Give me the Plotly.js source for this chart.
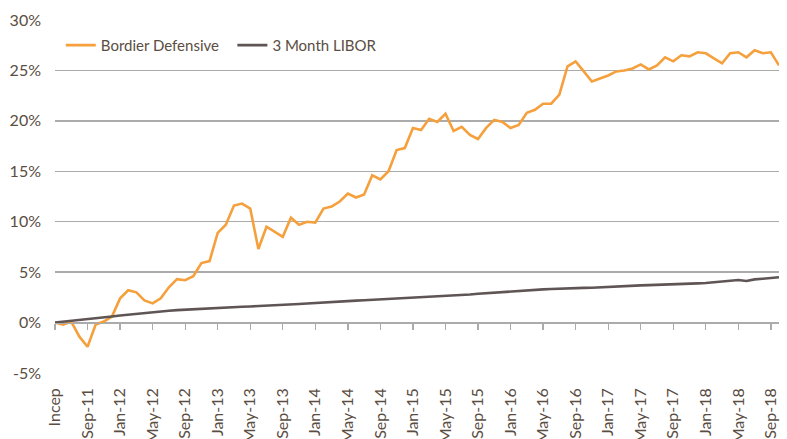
<!DOCTYPE html>
<html>
<head>
<meta charset="utf-8">
<script src="https://cdn.plot.ly/plotly-3.0.1.min.js"></script>
<style>
html,body{margin:0;padding:0;background:#fff;}
#chart{width:787px;height:439px;}
</style>
</head>
<body>
<div id="chart"></div>
<script>
// Tick labels shown on the x axis (every 4th month)
var tickLabels = ['Incep','Sep-11','Jan-12','May-12','Sep-12','Jan-13','May-13','Sep-13','Jan-14','May-14','Sep-14','Jan-15','May-15','Sep-15','Jan-16','May-16','Sep-16','Jan-17','May-17','Sep-17','Jan-18','May-18','Sep-18'];

// Monthly categories May-11 (Incep) .. Oct-18
var monthNames = ['Jan','Feb','Mar','Apr','May','Jun','Jul','Aug','Sep','Oct','Nov','Dec'];
var categories = [];
(function(){
  var m = 4, y = 11;
  for (var i = 0; i < 90; i++) {
    categories.push(i === 0 ? 'Incep' : monthNames[m] + '-' + y);
    m++; if (m > 11) { m = 0; y++; }
  }
})();

// Cumulative performance (%)
var bordierDefensive = [
  0.0, -0.2, 0.1, -1.4, -2.4, -0.2, 0.1, 0.6, 2.4, 3.2,
  3.0, 2.2, 1.9, 2.4, 3.5, 4.3, 4.2, 4.6, 5.9, 6.1,
  8.9, 9.7, 11.6, 11.8, 11.3, 7.3, 9.5, 9.0, 8.5, 10.4,
  9.7, 10.0, 9.9, 11.3, 11.5, 12.0, 12.8, 12.4, 12.7, 14.6,
  14.2, 15.0, 17.1, 17.3, 19.3, 19.1, 20.2, 19.9, 20.7, 19.0,
  19.4, 18.6, 18.2, 19.3, 20.1, 19.9, 19.3, 19.6, 20.8, 21.1,
  21.7, 21.7, 22.6, 25.4, 25.9, 24.9, 23.9, 24.2, 24.5, 24.9,
  25.0, 25.2, 25.6, 25.1, 25.5, 26.3, 25.9, 26.5, 26.4, 26.8,
  26.7, 26.2, 25.7, 26.7, 26.8, 26.3, 27.0, 26.7, 26.8, 25.5
];
var libor3m = [
  0.00, 0.08, 0.15, 0.23, 0.30, 0.40, 0.50, 0.60, 0.70, 0.79,
  0.88, 0.96, 1.05, 1.11, 1.17, 1.23, 1.28, 1.33, 1.38, 1.43,
  1.48, 1.51, 1.54, 1.57, 1.60, 1.63, 1.66, 1.70, 1.73, 1.78,
  1.84, 1.89, 1.95, 2.00, 2.05, 2.10, 2.14, 2.18, 2.22, 2.26,
  2.30, 2.34, 2.37, 2.40, 2.45, 2.50, 2.55, 2.59, 2.64, 2.68,
  2.73, 2.79, 2.86, 2.92, 2.98, 3.05, 3.11, 3.17, 3.21, 3.25,
  3.29, 3.33, 3.37, 3.40, 3.42, 3.44, 3.45, 3.50, 3.55, 3.60,
  3.65, 3.67, 3.69, 3.71, 3.73, 3.75, 3.77, 3.81, 3.85, 3.89,
  3.93, 4.00, 4.08, 4.15, 4.22, 4.12, 4.28, 4.35, 4.42, 4.50
];
var yTickVals = [-5, 0, 5, 10, 15, 20, 25, 30];
var yTickText = ['-5%', '0%', '5%', '10%', '15%', '20%', '25%', '30%'];

var textColor = '#5a4d42';
var gridColor = '#ababab';
var fontFam = 'Lato, "Noto Sans", sans-serif';

var traces = [
  {
    x: categories, y: bordierDefensive, name: 'Bordier Defensive',
    type: 'scatter', mode: 'lines', xaxis: 'x', yaxis: 'y', legend: 'legend',
    line: {color: '#f5a03c', width: 2.6}, hoverinfo: 'skip'
  },
  {
    x: categories, y: libor3m, name: '3 Month LIBOR',
    type: 'scatter', mode: 'lines', xaxis: 'x2', yaxis: 'y', legend: 'legend2',
    line: {color: '#5f5555', width: 2.6}, hoverinfo: 'skip'
  }
];

var legendFont = {family: fontFam, size: 15, color: textColor};

var layout = {
  width: 787, height: 439,
  margin: {l: 55, r: 8, t: 20, b: 66, pad: 0},
  paper_bgcolor: '#ffffff', plot_bgcolor: '#ffffff',
  font: {family: fontFam, color: textColor, size: 15},
  showlegend: true,
  legend: {
    orientation: 'h', x: 0.008, y: 0.928, xanchor: 'left', yanchor: 'middle',
    font: legendFont, bgcolor: 'rgba(0,0,0,0)', itemwidth: 30
  },
  legend2: {
    orientation: 'h', x: 0.245, y: 0.928, xanchor: 'left', yanchor: 'middle',
    font: legendFont, bgcolor: 'rgba(0,0,0,0)', itemwidth: 30
  },
  xaxis: {
    type: 'category', range: [0, 89],
    tickmode: 'array', tickvals: tickLabels, ticktext: tickLabels,
    tickangle: -90, ticks: '', showgrid: false, showline: false, zeroline: false,
    ticklabelstandoff: 11,
    tickfont: {family: fontFam, size: 16, color: textColor}
  },
  xaxis2: {
    type: 'category', range: [0, 89], overlaying: 'x', anchor: 'free', position: 5/35,
    tickmode: 'array', tickvals: tickLabels, showticklabels: false,
    ticks: 'outside', ticklen: 6, tickwidth: 1.3, tickcolor: gridColor,
    showline: true, linecolor: gridColor, linewidth: 1.3,
    showgrid: false, zeroline: false
  },
  yaxis: {
    range: [-5, 30], tickmode: 'array', tickvals: yTickVals, ticktext: yTickText,
    showgrid: true, gridcolor: gridColor, gridwidth: 1.3,
    zeroline: false, showline: false, ticks: '',
    ticklabelstandoff: 13,
    tickfont: {family: fontFam, size: 16, color: textColor}
  }
};

Plotly.newPlot('chart', traces, layout, {staticPlot: true, displayModeBar: false});
</script>
</body>
</html>
